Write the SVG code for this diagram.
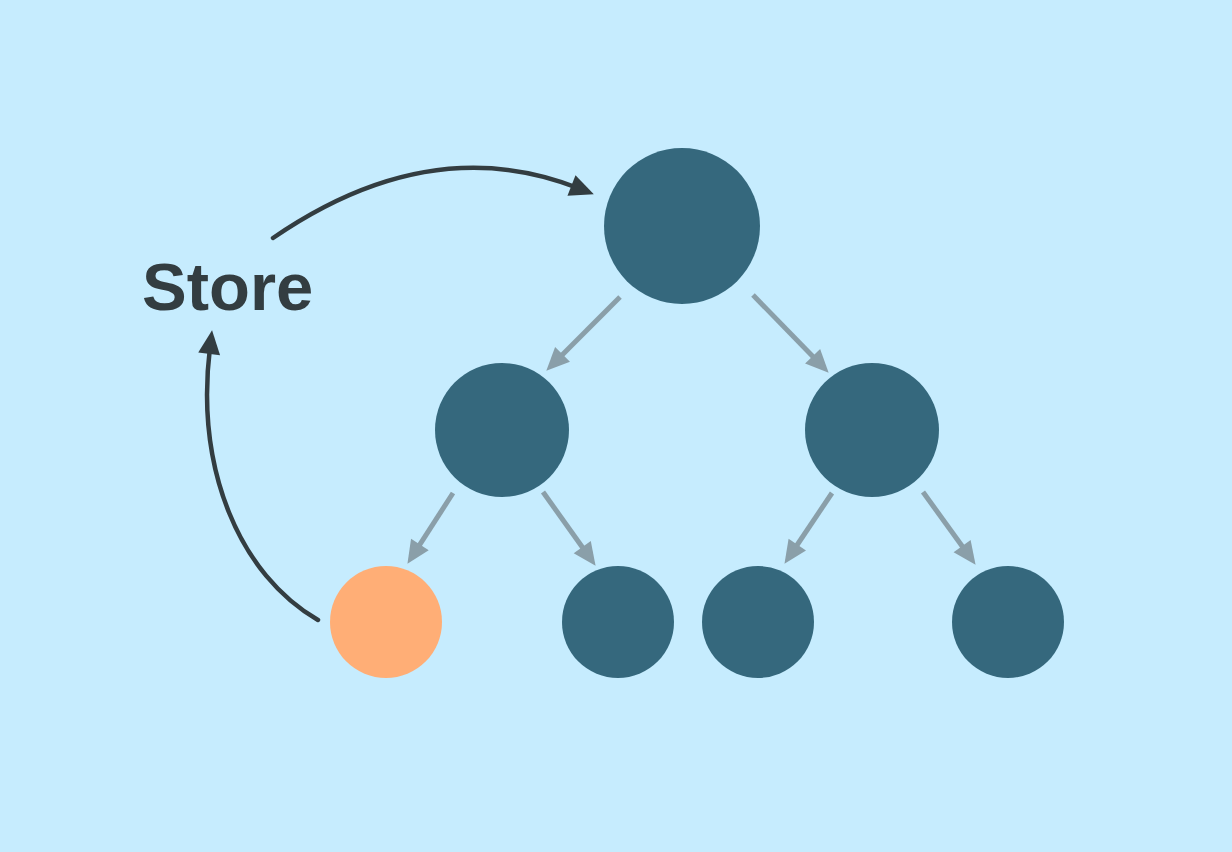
<svg xmlns="http://www.w3.org/2000/svg" width="1232" height="852" viewBox="0 0 1232 852">
<defs>
<style>
.node{fill:#35687d}
.hot{fill:#ffae76}
.edge{stroke:#8a9fa9;stroke-width:5;fill:none;marker-end:url(#ag)}
.flow{stroke:#333d41;stroke-width:4.5;fill:none;stroke-linecap:round;marker-end:url(#ad)}
.label{font-family:"Liberation Sans",Arial,sans-serif;font-weight:bold;font-size:67px;fill:#333d41}
</style>
<marker id="ag" markerUnits="userSpaceOnUse" markerWidth="23" markerHeight="21" refX="7" refY="10.5" orient="auto" overflow="visible">
<path d="M0,0 L23,10.5 L0,21 z" fill="#8a9fa9"/>
</marker>
<marker id="ad" markerUnits="userSpaceOnUse" markerWidth="24" markerHeight="22" refX="7" refY="11" orient="auto" overflow="visible">
<path d="M0,0 L24,11 L0,22 z" fill="#333d41"/>
</marker>
</defs>
<rect width="1232" height="852" fill="#c6ecfe"/>
<g id="connectors">
<line class="edge" x1="620" y1="297" x2="557.6" y2="359.4"/>
<line class="edge" x1="753" y1="295" x2="817.5" y2="361.3"/>
<line class="edge" x1="453" y1="493" x2="416.1" y2="550.4"/>
<line class="edge" x1="543" y1="492" x2="586.3" y2="552.8"/>
<line class="edge" x1="832" y1="493" x2="793.4" y2="550.5"/>
<line class="edge" x1="923" y1="492" x2="966.2" y2="551.8"/>
<path class="flow" d="M273,238 Q430,130 578,188"/>
<path class="flow" d="M318,620 C240,575 195,470 210,347"/>
</g>
<g id="store"><text class="label" x="142" y="310">Store</text></g>
<g id="root"><circle class="node" cx="682" cy="226" r="78"/></g>
<g id="mid-left"><circle class="node" cx="502" cy="430" r="67"/></g>
<g id="mid-right"><circle class="node" cx="872" cy="430" r="67"/></g>
<g id="leaf-1"><circle class="hot" cx="386" cy="622" r="56"/></g>
<g id="leaf-2"><circle class="node" cx="618" cy="622" r="56"/></g>
<g id="leaf-3"><circle class="node" cx="758" cy="622" r="56"/></g>
<g id="leaf-4"><circle class="node" cx="1008" cy="622" r="56"/></g>
</svg>
